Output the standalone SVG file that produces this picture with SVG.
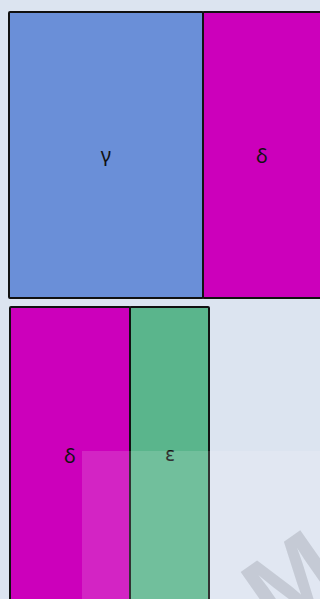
<svg xmlns="http://www.w3.org/2000/svg" width="320" height="599" viewBox="0 0 320 599">
<style>
.n{stroke:#111;stroke-width:2}
.t{font-family:"Noto Sans","Open Sans",sans-serif;font-size:20px;fill:#111;text-anchor:middle;dominant-baseline:central}
</style>
<rect width="320" height="599" fill="#dce4f0"/>
<g id="gamma"><rect class="n" x="9" y="12" width="194" height="286" rx="1" fill="#6a8fd8"/><text class="t" x="106" y="154">γ</text></g>
<g id="delta1"><rect class="n" x="203" y="12" width="125" height="286" rx="1" fill="#cc00bb"/><text class="t" x="262" y="155">δ</text></g>
<g id="delta2"><rect class="n" x="10" y="307" width="120" height="300" rx="1" fill="#cc00bb"/><text class="t" x="70" y="455">δ</text></g>
<g id="epsilon"><rect class="n" x="130" y="307" width="79" height="300" rx="1" fill="#5ab58c"/><text class="t" x="170" y="453">ε</text></g>
<g id="connectors"/>
<rect x="82" y="451" width="240" height="150" fill="#ffffff" fill-opacity="0.14"/>
<text x="252" y="642" transform="rotate(-35 252 600)" font-family="'Liberation Sans',sans-serif" font-weight="bold" font-size="104" fill="#9aa0aa" fill-opacity="0.4">M</text>
</svg>
